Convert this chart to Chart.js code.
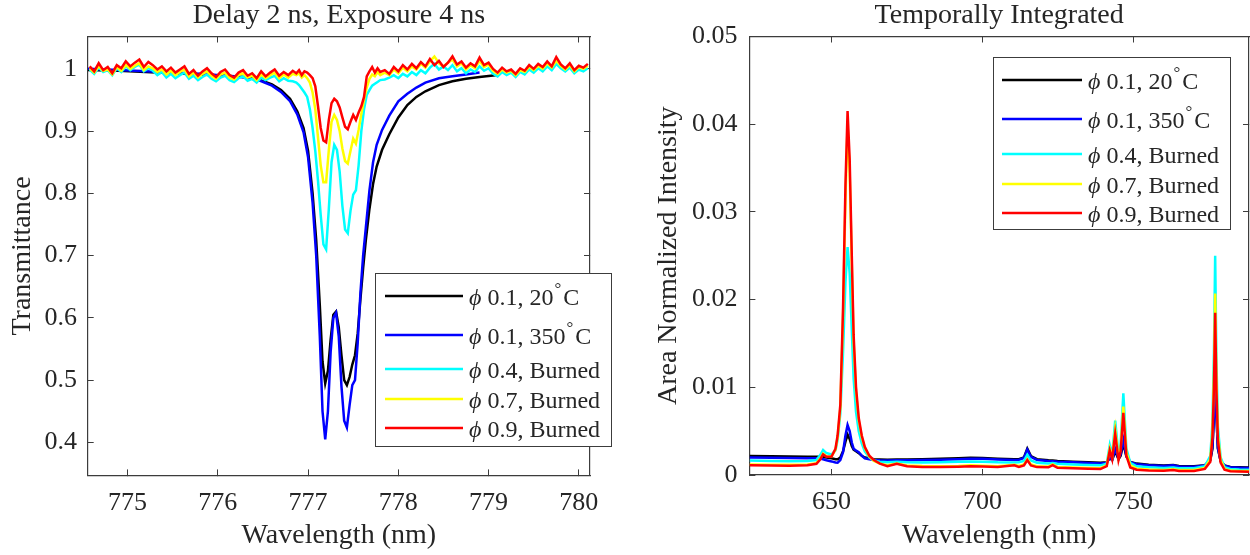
<!DOCTYPE html>
<html lang="en">
<head>
<meta charset="UTF-8">
<title>Transmittance and emission spectra</title>
<script src="https://cdn.jsdelivr.net/npm/chart.js"></script>
<style>
  body { margin: 0; background: #fff; }
  #wrap { position: relative; width: 1250px; height: 555px; }
  canvas { position: absolute; top: 0; }
  #left { left: 0; }
  #right { left: 625px; }
</style>
</head>
<body>
<div id="wrap">
  <canvas id="left" width="625" height="555"></canvas>
  <canvas id="right" width="625" height="555"></canvas>
</div>
<script>
// ---- data ----
const seriesNames = ['ϕ 0.1, 20°C', 'ϕ 0.1, 350°C', 'ϕ 0.4, Burned', 'ϕ 0.7, Burned', 'ϕ 0.9, Burned'];
const seriesColors = ['#000000', '#0000ff', '#00ffff', '#ffff00', '#ff0000'];

// left panel: transmittance, Delay 2 ns / Exposure 4 ns
const leftXTicks = [775, 776, 777, 778, 779, 780];
const leftYTicks = [0.4, 0.5, 0.6, 0.7, 0.8, 0.9, 1];

// wavelength grid for the noisy burned traces
const wlNoisy = [
  774.58, 774.63, 774.68, 774.73, 774.78, 774.83, 774.88, 774.93, 774.98, 775.03,
  775.08, 775.13, 775.18, 775.23, 775.28, 775.33, 775.38, 775.43, 775.48, 775.53,
  775.58, 775.63, 775.68, 775.73, 775.78, 775.83, 775.88, 775.93, 775.98, 776.03,
  776.08, 776.13, 776.18, 776.23, 776.28, 776.33, 776.38, 776.43, 776.48, 776.53,
  776.58, 776.63, 776.68, 776.73, 776.78, 776.83,
  776.87, 776.90, 776.93, 776.96, 776.99, 777.02, 777.05, 777.08, 777.11, 777.14,
  777.17, 777.20, 777.23, 777.26, 777.29, 777.32, 777.35, 777.38, 777.41, 777.44,
  777.47, 777.50, 777.53, 777.56, 777.59, 777.62, 777.65, 777.68, 777.71, 777.74,
  777.77, 777.80,
  777.85, 777.90, 777.95, 778.00, 778.05, 778.10, 778.15, 778.20, 778.25, 778.30,
  778.35, 778.40, 778.45, 778.50, 778.55, 778.60, 778.65, 778.70, 778.75, 778.80,
  778.85, 778.90, 778.95, 779.00, 779.05, 779.10, 779.15, 779.20, 779.25, 779.30,
  779.35, 779.40, 779.45, 779.50, 779.55, 779.60, 779.65, 779.70, 779.75, 779.80,
  779.85, 779.90, 779.95, 780.00, 780.05, 780.10
];
const cyanT = [
  0.999, 0.992, 1.002, 0.995, 0.998, 0.990, 1.001, 0.995, 1.004, 0.998,
  1.003, 1.007, 0.996, 1.001, 0.997, 0.990, 0.995, 0.986, 0.992, 0.985,
  0.990, 0.994, 0.984, 0.989, 0.982, 0.987, 0.991, 0.984, 0.980, 0.986,
  0.989, 0.982, 0.979, 0.985, 0.988, 0.981, 0.984, 0.978, 0.986, 0.982,
  0.986, 0.989, 0.980, 0.985, 0.981, 0.980,
  0.978, 0.974, 0.968, 0.962, 0.955, 0.935, 0.905, 0.868, 0.820, 0.765,
  0.718, 0.710, 0.775, 0.850, 0.878, 0.870, 0.835, 0.780, 0.742, 0.736,
  0.772, 0.798, 0.805, 0.845, 0.900, 0.935, 0.958, 0.966, 0.973, 0.976,
  0.979, 0.982,
  0.983, 0.986, 0.990, 0.985, 0.992, 0.988, 0.995, 0.990, 0.998, 0.993,
  1.002, 1.008, 0.999, 1.004, 0.998, 1.006, 0.996, 1.001, 0.993, 0.999,
  0.995, 1.004, 0.997, 1.001, 0.992, 0.988, 0.995, 0.990, 0.994, 0.987,
  0.995, 0.991, 0.999, 0.994, 1.001, 0.996, 1.004, 0.998, 1.008, 1.001,
  0.996, 1.002, 0.993, 0.999, 0.996, 1.001
];
const yellowT = [
  1.001, 0.994, 1.004, 0.997, 0.999, 0.991, 1.003, 0.997, 1.006, 1.000,
  1.005, 1.009, 0.998, 1.004, 1.001, 0.995, 0.999, 0.991, 0.997, 0.990,
  0.995, 0.999, 0.988, 0.994, 0.986, 0.992, 0.996, 0.989, 0.984, 0.991,
  0.994, 0.986, 0.983, 0.990, 0.993, 0.986, 0.989, 0.982, 0.991, 0.985,
  0.990, 0.994, 0.985, 0.991, 0.986, 0.992,
  0.990, 0.993, 0.986, 0.990, 0.985, 0.978, 0.962, 0.935, 0.890, 0.845,
  0.818, 0.818, 0.870, 0.915, 0.926, 0.918, 0.900, 0.872, 0.852, 0.848,
  0.868, 0.888, 0.880, 0.902, 0.928, 0.950, 0.970, 0.984, 0.991, 0.988,
  0.995, 0.990,
  0.994, 0.990, 0.999, 0.993, 1.002, 0.996, 1.004, 0.999, 1.008, 1.002,
  1.012, 1.020, 1.009, 1.004, 1.010, 1.015, 1.004, 1.009, 0.999, 1.006,
  1.001, 1.013, 1.003, 1.007, 0.997, 0.992, 0.999, 0.994, 0.997, 0.990,
  0.998, 0.995, 1.003, 0.998, 1.005, 1.000, 1.009, 1.002, 1.013, 1.005,
  0.999, 1.006, 0.996, 1.003, 1.000, 1.005
];
const redT = [
  1.004, 0.996, 1.009, 0.998, 1.003, 0.993, 1.006, 1.001, 1.012, 1.004,
  1.010, 1.015, 1.003, 1.011, 1.006, 0.999, 1.004, 0.996, 1.002, 0.994,
  0.999, 1.004, 0.992, 0.998, 0.989, 0.996, 1.001, 0.993, 0.987, 0.995,
  0.999, 0.990, 0.986, 0.994, 0.998, 0.989, 0.993, 0.985, 0.996, 0.988,
  0.994, 0.999, 0.989, 0.995, 0.990, 0.997,
  0.993, 0.998, 0.990, 0.996, 0.994, 0.990, 0.985, 0.972, 0.940, 0.905,
  0.885, 0.882, 0.918, 0.945, 0.952, 0.948, 0.938, 0.922, 0.907, 0.903,
  0.915, 0.926, 0.918, 0.930, 0.940, 0.955, 0.988, 0.996, 1.003, 0.994,
  1.001, 0.995,
  0.998, 0.992, 1.003, 0.996, 1.006, 0.999, 1.008, 1.001, 1.011, 1.004,
  1.016, 1.006, 1.013, 1.003, 1.010, 1.020, 1.007, 1.012, 1.002, 1.009,
  1.004, 1.018, 1.006, 1.010, 1.000, 0.994, 1.002, 0.996, 0.999, 0.992,
  1.001, 0.997, 1.006, 1.000, 1.008, 1.003, 1.012, 1.004, 1.019, 1.007,
  1.001, 1.009, 0.998, 1.005, 1.002, 1.008
];

// wavelength grid for the smooth phi 0.1 traces
const wlSmooth = [
  774.56, 774.9, 775.2, 775.5, 775.8, 776.1, 776.3, 776.45, 776.6, 776.7,
  776.8, 776.88, 776.95, 777.0, 777.05, 777.09, 777.13, 777.16, 777.19, 777.22,
  777.25, 777.28, 777.31, 777.34, 777.37, 777.4, 777.43, 777.46, 777.49, 777.52,
  777.55, 777.58, 777.61, 777.64, 777.68, 777.72, 777.76, 777.82, 777.9, 778.0,
  778.1, 778.2, 778.3, 778.45, 778.6, 778.75, 778.9, 779.1
];
const blackT = [
  0.998, 0.997, 0.995, 0.993, 0.991, 0.989, 0.987, 0.983, 0.975, 0.966,
  0.952, 0.932, 0.905, 0.868, 0.800, 0.725, 0.620, 0.530, 0.495, 0.515,
  0.565, 0.605, 0.610, 0.585, 0.540, 0.500, 0.492, 0.505, 0.525, 0.540,
  0.575, 0.630, 0.680, 0.725, 0.775, 0.815, 0.843, 0.870, 0.895, 0.922,
  0.942, 0.955, 0.964, 0.974, 0.980, 0.984, 0.987, 0.990
];
const blueT = [
  1.000, 0.998, 0.996, 0.994, 0.992, 0.989, 0.986, 0.982, 0.973, 0.963,
  0.948, 0.927, 0.898, 0.858, 0.785, 0.700, 0.570, 0.450, 0.405, 0.450,
  0.545, 0.600, 0.608, 0.570, 0.490, 0.435, 0.424, 0.460, 0.492, 0.500,
  0.560, 0.640, 0.700, 0.745, 0.805, 0.850, 0.878, 0.902, 0.925, 0.948,
  0.960, 0.970, 0.978, 0.985, 0.988, 0.991, 0.994, null
];

// right panel: temporally integrated emission
const rightXTicks = [650, 700, 750];
const rightYTicks = [0, 0.01, 0.02, 0.03, 0.04, 0.05];
const wlSpec = [
  622.9, 630, 636, 642, 645, 646.3, 647.2, 648.3, 650, 651.3,
  652.0, 652.9, 653.8, 654.6, 655.3, 656.0, 656.7, 657.3, 658.1, 659.0,
  660.0, 661.0, 662.5, 664, 666, 668.5, 671.6, 675, 680, 686,
  692, 696, 700, 705, 710.5, 712, 713.7, 714.8, 716, 718,
  721.8, 723.2, 724.8, 730, 735, 739, 741.1, 742.1, 742.9, 743.9,
  745.0, 745.7, 746.6, 747.6, 748.9, 751, 755, 760, 763.1, 765,
  770, 773.6, 775.4, 776.1, 776.6, 777.0, 777.4, 777.9, 778.8, 780.1,
  782, 785, 788.2
];
const blackI = [
  0.00217, 0.00214, 0.00210, 0.00208, 0.00207, 0.00208, 0.00205, 0.00198, 0.00190, 0.00180,
  0.00180, 0.00200, 0.00270, 0.00380, 0.00460, 0.00410, 0.00330, 0.00290, 0.00270, 0.00250,
  0.00220, 0.00200, 0.00190, 0.00180, 0.00177, 0.00175, 0.00176, 0.00176, 0.00180, 0.00185,
  0.00192, 0.00198, 0.00195, 0.00186, 0.00180, 0.00180, 0.00200, 0.00300, 0.00215, 0.00180,
  0.00168, 0.00165, 0.00160, 0.00152, 0.00145, 0.00140, 0.00145, 0.00190, 0.00170, 0.00270,
  0.00180, 0.00220, 0.00360, 0.00210, 0.00150, 0.00130, 0.00118, 0.00108, 0.00115, 0.00102,
  0.00100, 0.00112, 0.00170, 0.00300, 0.00700, 0.01220, 0.00700, 0.00300, 0.00160, 0.00110,
  0.00092, 0.00088, 0.00085
];
const blueI = [
  0.00200, 0.00197, 0.00194, 0.00192, 0.00190, 0.00188, 0.00180, 0.00168, 0.00155, 0.00142,
  0.00140, 0.00170, 0.00260, 0.00450, 0.00570, 0.00500, 0.00370, 0.00300, 0.00280, 0.00260,
  0.00220, 0.00190, 0.00180, 0.00172, 0.00168, 0.00166, 0.00167, 0.00167, 0.00170, 0.00175,
  0.00180, 0.00186, 0.00184, 0.00176, 0.00171, 0.00171, 0.00195, 0.00290, 0.00208, 0.00172,
  0.00160, 0.00157, 0.00152, 0.00144, 0.00137, 0.00132, 0.00138, 0.00200, 0.00170, 0.00300,
  0.00185, 0.00235, 0.00400, 0.00215, 0.00145, 0.00124, 0.00112, 0.00102, 0.00110, 0.00097,
  0.00095, 0.00108, 0.00180, 0.00320, 0.00700, 0.01180, 0.00690, 0.00310, 0.00160, 0.00105,
  0.00088, 0.00084, 0.00080
];
const cyanI = [
  0.00165, 0.00160, 0.00158, 0.00160, 0.00170, 0.00230, 0.00285, 0.00250, 0.00235, 0.00280,
  0.00400, 0.00700, 0.01400, 0.02200, 0.02600, 0.02300, 0.01650, 0.01100, 0.00720, 0.00500,
  0.00360, 0.00270, 0.00200, 0.00165, 0.00152, 0.00146, 0.00150, 0.00144, 0.00142, 0.00145,
  0.00150, 0.00155, 0.00152, 0.00145, 0.00142, 0.00145, 0.00160, 0.00230, 0.00165, 0.00140,
  0.00132, 0.00138, 0.00128, 0.00120, 0.00114, 0.00110, 0.00130, 0.00340, 0.00220, 0.00620,
  0.00230, 0.00350, 0.00930, 0.00300, 0.00140, 0.00100, 0.00088, 0.00080, 0.00086, 0.00078,
  0.00076, 0.00100, 0.00220, 0.00600, 0.01400, 0.02500, 0.01350, 0.00550, 0.00200, 0.00090,
  0.00068, 0.00062, 0.00060
];
const yellowI = [
  0.00120, 0.00118, 0.00116, 0.00120, 0.00135, 0.00190, 0.00245, 0.00215, 0.00212, 0.00290,
  0.00430, 0.00760, 0.01800, 0.03150, 0.04000, 0.03450, 0.02400, 0.01520, 0.00950, 0.00620,
  0.00430, 0.00310, 0.00210, 0.00160, 0.00130, 0.00112, 0.00132, 0.00108, 0.00102, 0.00100,
  0.00104, 0.00110, 0.00106, 0.00100, 0.00118, 0.00102, 0.00120, 0.00180, 0.00120, 0.00100,
  0.00098, 0.00120, 0.00092, 0.00085, 0.00080, 0.00078, 0.00110, 0.00300, 0.00200, 0.00520,
  0.00200, 0.00300, 0.00780, 0.00260, 0.00110, 0.00072, 0.00064, 0.00058, 0.00066, 0.00058,
  0.00056, 0.00080, 0.00180, 0.00500, 0.01150, 0.02070, 0.01100, 0.00460, 0.00170, 0.00070,
  0.00050, 0.00046, 0.00045
];
const redI = [
  0.00110, 0.00108, 0.00106, 0.00112, 0.00128, 0.00180, 0.00235, 0.00208, 0.00210, 0.00300,
  0.00450, 0.00800, 0.01900, 0.03300, 0.04150, 0.03600, 0.02500, 0.01600, 0.01000, 0.00650,
  0.00450, 0.00320, 0.00220, 0.00170, 0.00130, 0.00100, 0.00128, 0.00100, 0.00092, 0.00090,
  0.00095, 0.00100, 0.00096, 0.00090, 0.00110, 0.00092, 0.00110, 0.00170, 0.00110, 0.00090,
  0.00088, 0.00112, 0.00082, 0.00076, 0.00070, 0.00068, 0.00100, 0.00280, 0.00180, 0.00470,
  0.00170, 0.00270, 0.00710, 0.00220, 0.00085, 0.00060, 0.00052, 0.00048, 0.00056, 0.00047,
  0.00045, 0.00070, 0.00150, 0.00430, 0.01000, 0.01850, 0.00980, 0.00400, 0.00140, 0.00060,
  0.00042, 0.00040, 0.00038
];

// ---- drawing ----
const SERIF = '"Liberation Serif", "Times New Roman", serif';
const TEXT = '#262626';
const AXIS = '#3c3c3c';

function pts(xs, ys) {
  return xs.map((x, i) => ({ x: x, y: ys[i] }));
}

// series are drawn black first, red last (red on top, like the original)
function makeDatasets(pairs) {
  return pairs.map((p, i) => ({
    label: seriesNames[i],
    data: pts(p[0], p[1]),
    borderColor: seriesColors[i],
    backgroundColor: seriesColors[i],
    borderWidth: 2.5,
    pointRadius: 0,
    tension: 0,
    fill: false,
    order: 5 - i
  }));
}

// legend box drawn inside the axes, as in the figure
const boxLegend = {
  id: 'boxLegend',
  afterDraw(chart, args, o) {
    const ctx = chart.ctx;
    ctx.save();
    ctx.fillStyle = '#fff';
    ctx.fillRect(o.x1, o.y1, o.x2 - o.x1, o.y2 - o.y1);
    ctx.strokeStyle = AXIS;
    ctx.lineWidth = 1;
    ctx.strokeRect(o.x1 + 0.5, o.y1 + 0.5, o.x2 - o.x1, o.y2 - o.y1);
    chart.data.datasets.forEach((ds, i) => {
      const y = o.rows[i];
      ctx.strokeStyle = ds.borderColor;
      ctx.lineWidth = 2.5;
      ctx.beginPath();
      ctx.moveTo(o.lineX[0], y);
      ctx.lineTo(o.lineX[1], y);
      ctx.stroke();
      ctx.fillStyle = TEXT;
      ctx.textBaseline = 'middle';
      let x = o.textX;
      // italic phi, then the rest; a degree sign is set as a superscript
      const sym = ds.label.slice(0, 1);
      const parts = ds.label.slice(1).split('°');
      ctx.font = 'italic 24px ' + SERIF;
      ctx.fillText(sym, x, y + 3);
      x += ctx.measureText(sym).width;
      parts.forEach((part, k) => {
        if (k > 0) {
          ctx.font = '17px ' + SERIF;
          x += 1;
          ctx.fillText('°', x, y - 6);
          x += ctx.measureText('°').width + 2;
        }
        ctx.font = '24px ' + SERIF;
        ctx.fillText(part, x, y + 3);
        x += ctx.measureText(part).width;
      });
    });
    ctx.restore();
  }
};

function axisSet(cfg) {
  const tickFont = { family: SERIF, size: 26 };
  const titleFont = { family: SERIF, size: 28 };
  const grid = { drawOnChartArea: false, tickLength: -6, color: AXIS, tickColor: AXIS, lineWidth: 1 };
  const border = { color: AXIS, width: 1.2 };
  return {
    x: {
      type: 'linear', position: 'bottom', min: cfg.xMin, max: cfg.xMax,
      afterBuildTicks: s => { s.ticks = cfg.xTicks.map(v => ({ value: v })); },
      afterFit: s => { s.height = cfg.bottomH; },
      grid: grid, border: border,
      ticks: { color: TEXT, font: tickFont, padding: 18, maxRotation: 0, autoSkip: false, callback: v => String(v) },
      title: { display: true, text: 'Wavelength (nm)', color: TEXT, font: titleFont, padding: { top: 0, bottom: 3 } }
    },
    x2: {
      type: 'linear', axis: 'x', position: 'top', min: cfg.xMin, max: cfg.xMax,
      afterBuildTicks: s => { s.ticks = cfg.xTicks.map(v => ({ value: v })); },
      afterFit: s => { s.height = 0; },
      grid: grid, border: border,
      ticks: { display: false }
    },
    y: {
      type: 'linear', position: 'left', min: cfg.yMin, max: cfg.yMax,
      afterBuildTicks: s => { s.ticks = cfg.yTicks.map(v => ({ value: v })); },
      afterFit: s => { s.width = cfg.leftW; },
      grid: grid, border: border,
      ticks: { color: TEXT, font: tickFont, padding: cfg.yPad, autoSkip: false, callback: v => String(v) },
      title: { display: true, text: cfg.yTitle, color: TEXT, font: titleFont, padding: { top: cfg.yTitlePad, bottom: 0 } }
    },
    y2: {
      type: 'linear', axis: 'y', position: 'right', min: cfg.yMin, max: cfg.yMax,
      afterBuildTicks: s => { s.ticks = cfg.yTicks.map(v => ({ value: v })); },
      afterFit: s => { s.width = 0; },
      grid: grid, border: border,
      ticks: { display: false }
    }
  };
}

function chartOptions(cfg) {
  return {
    responsive: false,
    animation: false,
    devicePixelRatio: 1,
    layout: { padding: { top: 0, left: 0, bottom: 0, right: cfg.padRight } },
    plugins: {
      legend: { display: false },
      tooltip: { enabled: false },
      title: {
        display: true, text: cfg.title, color: TEXT, fullSize: false,
        font: { family: SERIF, size: 28, weight: 'normal', lineHeight: 1.1 },
        padding: { top: 0, bottom: 5.7 }
      },
      boxLegend: cfg.legend
    },
    scales: axisSet(cfg)
  };
}

new Chart(document.getElementById('left'), {
  type: 'line',
  data: {
    datasets: makeDatasets([
      [wlSmooth, blackT], [wlSmooth, blueT],
      [wlNoisy, cyanT], [wlNoisy, yellowT], [wlNoisy, redT]
    ])
  },
  options: chartOptions({
    title: 'Delay 2 ns, Exposure 4 ns',
    xMin: 774.558, xMax: 780.124, xTicks: leftXTicks,
    yMin: 0.347, yMax: 1.052, yTicks: leftYTicks,
    yTitle: 'Transmittance', yTitlePad: 5.7, yPad: 16.7,
    leftW: 87.7, bottomH: 79.6, padRight: 35,
    legend: { x1: 375, y1: 273, x2: 611, y2: 446, rows: [296, 335, 369, 399, 428], lineX: [385, 463], textX: 469 }
  }),
  plugins: [boxLegend]
});

new Chart(document.getElementById('right'), {
  type: 'line',
  data: {
    datasets: makeDatasets([
      [wlSpec, blackI], [wlSpec, blueI], [wlSpec, cyanI], [wlSpec, yellowI], [wlSpec, redI]
    ])
  },
  options: chartOptions({
    title: 'Temporally Integrated',
    xMin: 622.8, xMax: 788.2, xTicks: rightXTicks,
    yMin: 0, yMax: 0.05, yTicks: rightYTicks,
    yTitle: 'Area Normalized Intensity', yTitlePad: 27.2, yPad: 18,
    leftW: 124.4, bottomH: 80, padRight: 1,
    legend: { x1: 368, y1: 57, x2: 605, y2: 229, rows: [80, 119, 154, 184, 213], lineX: [377, 457], textX: 463 }
  }),
  plugins: [boxLegend]
});
</script>
</body>
</html>
